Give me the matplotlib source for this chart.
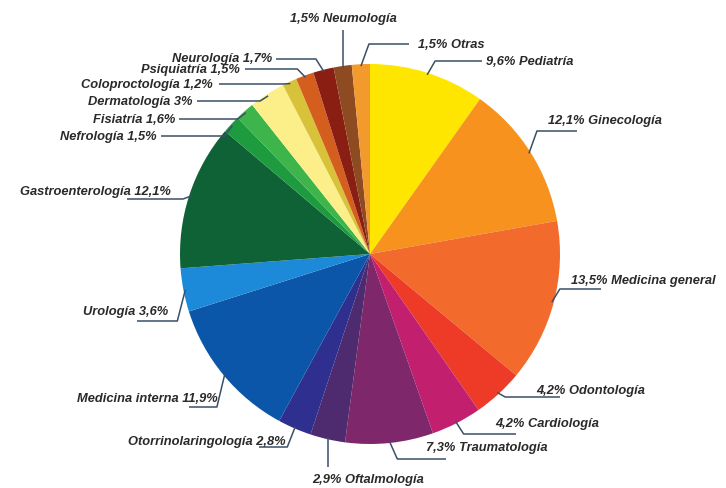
import numpy as np
import matplotlib.pyplot as plt

# porcentaje de consultas por especialidad (en sentido horario desde arriba)
labels = ["Pediatría", "Ginecología", "Medicina general", "Odontología", "Cardiología",
          "Traumatología", "Oftalmología", "Otorrinolaringología", "Medicina interna",
          "Urología", "Gastroenterología", "Nefrología", "Fisiatría", "Dermatología",
          "Coloproctología", "Psiquiatría", "Neurología", "Neumología", "Otras"]
values = [9.6, 12.1, 13.5, 4.2, 4.2, 7.3, 2.9, 2.8, 11.9, 3.6, 12.1, 1.5, 1.6, 3.0,
          1.2, 1.5, 1.7, 1.5, 1.5]
pct_text = ["9,6%", "12,1%", "13,5%", "4,2%", "4,2%", "7,3%", "2,9%", "2,8%", "11,9%",
            "3,6%", "12,1%", "1,5%", "1,6%", "3%", "1,2%", "1,5%", "1,7%", "1,5%", "1,5%"]
colors = ["#FFE600", "#F7921E", "#F26A2C", "#EE3B27", "#C21F6E", "#7E276A", "#4E2A6E",
          "#2E2F8E", "#0B56A8", "#1C8AD8", "#0E6236", "#1E9B3E", "#3DB54A", "#FCEF8A",
          "#D8C23A", "#D45E1D", "#8B1E12", "#8E4A20", "#F39A2C"]

# layout of the labels (pixels in the 726x489 image)
# (text x, text y, ha, line y, line end x)
layout = {
    "Pediatría":            (486, 62, "left", 62, 482),
    "Ginecología":          (548, 121, "left", 132, 577),
    "Medicina general":     (571, 281, "left", 290, 601),
    "Odontología":          (536, 391, "left", 398, 560),
    "Cardiología":          (495, 424, "left", 435, 516),
    "Traumatología":        (426, 448, "left", 460, 446),
    "Otorrinolaringología": (286, 442, "right", 448, 259),
    "Medicina interna":     (218, 399, "right", 408, 189),
    "Urología":             (168, 312, "right", 322, 137),
    "Gastroenterología":    (171, 192, "right", 200, 127),
    "Nefrología":           (157, 137, "right", 137, 161),
    "Fisiatría":            (175, 120, "right", 120, 179),
    "Dermatología":         (192, 102, "right", 102, 197),
    "Coloproctología":      (213, 85, "right", 85, 219),
    "Psiquiatría":          (240, 70, "right", 70, 245),
    "Neurología":           (272, 59, "right", 60, 276),
    "Otras":                (418, 45, "left", 45, 409),
}
vertical = {"Neumología": (343, 19, 31), "Oftalmología": (312, 480, 468)}

W, H = 726, 489
CX, CY, R = 370, 255, 190


def px(x, y):
    return (x - CX) / R, (CY - y) / R


fig = plt.figure(figsize=(W / 100, H / 100), dpi=100)
ax = fig.add_axes([0, 0, 1, 1])
wedges, _ = ax.pie(values, colors=colors, startangle=90, counterclock=False,
                   radius=1.0, center=(0, 0), wedgeprops=dict(linewidth=0))
ax.set_xlim(-CX / R, (W - CX) / R)
ax.set_ylim(-(H - CY) / R, CY / R)
ax.set_aspect("equal")
ax.axis("off")

line_kw = dict(color="#3A5068", lw=1.1, solid_capstyle="butt")
text_kw = dict(fontsize=9.3, fontstyle="italic", color="#2A2A2A", family="Liberation Sans",
               fontweight="bold")

for i, name in enumerate(labels):
    w = wedges[i]
    ang = np.deg2rad((w.theta1 + w.theta2) / 2)
    sx, sy = np.cos(ang) * 0.99, np.sin(ang) * 0.99
    spx, spy = CX + sx * R, CY - sy * R
    if name in vertical:
        tx, ty, ey = vertical[name]
        ex, eyy = px(spx, ey)
        ax.plot([sx, ex], [sy, eyy], **line_kw)
        ha = "center" if name == "Neumología" else "left"
        ax.text(*px(tx, ty), pct_text[i] + " " + name, ha=ha, va="center", **text_kw)
        continue
    tx, ty, ha, ly, lx = layout[name]
    step = 8 if ha == "left" else -8
    elbow = px(spx + step, ly)
    end = px(lx, ly)
    ax.plot([sx, elbow[0], end[0]], [sy, elbow[1], end[1]], **line_kw)
    txt = pct_text[i] + " " + name if ha == "left" else name + " " + pct_text[i]
    ax.text(*px(tx, ty), txt, ha=ha, va="center", **text_kw)

fig.savefig("out.png", dpi=100, facecolor="white")
